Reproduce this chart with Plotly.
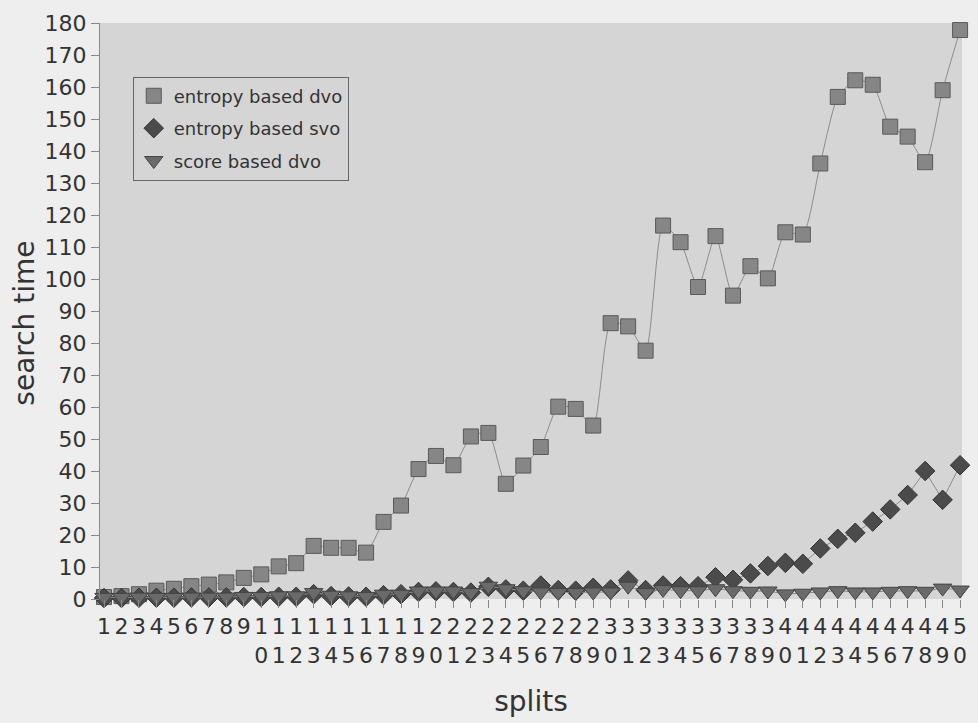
import plotly.graph_objects as go

splits = list(range(1, 51))
tick_labels = [str(n) if n < 10 else f"{str(n)[0]}<br>{str(n)[1]}" for n in splits]

entropy_dvo = [0.6, 0.9, 1.5, 2.6, 3.2, 4.0, 4.5, 5.2, 6.6, 7.7,
               10.2, 11.2, 16.6, 16.0, 16.0, 14.5, 24.1, 29.2, 40.6, 44.7,
               41.8, 50.8, 51.9, 36.0, 41.7, 47.5, 60.1, 59.4, 54.2, 86.2,
               85.2, 77.6, 116.7, 111.5, 97.5, 113.4, 94.8, 104.0, 100.2, 114.6,
               113.9, 136.1, 156.9, 162.1, 160.7, 147.6, 144.5, 136.5, 159.0, 177.8]

entropy_svo = [0.3, 0.3, 0.4, 0.4, 0.4, 0.5, 0.5, 0.5, 0.6, 0.6,
               0.7, 0.7, 1.5, 0.9, 0.8, 0.7, 1.2, 1.5, 2.2, 2.4,
               2.2, 2.0, 3.8, 3.0, 2.6, 4.2, 2.8, 2.6, 3.5, 3.0,
               5.8, 2.8, 4.2, 4.0, 4.0, 6.8, 6.0, 8.0, 10.3, 11.3,
               11.0, 15.8, 18.8, 20.7, 24.2, 28.0, 32.5, 40.0, 31.0, 41.8]

score_dvo = [0.5, 0.5, 0.6, 0.5, 0.5, 0.6, 0.6, 0.6, 0.8, 0.8,
             1.0, 1.0, 2.0, 1.2, 1.0, 0.8, 1.5, 1.5, 2.5, 2.5,
             2.5, 2.0, 4.0, 3.2, 2.6, 2.2, 2.0, 2.0, 2.2, 2.2,
             4.0, 2.0, 3.0, 2.6, 2.6, 3.2, 2.6, 2.4, 2.5, 1.6,
             1.8, 2.2, 2.6, 2.2, 2.2, 2.4, 2.6, 2.4, 3.4, 2.8]

font = "DejaVu Sans"

styles = {
    "entropy based dvo": dict(symbol="square", size=15, color="#868686",
                              line=dict(color="#5a5a5a", width=1)),
    "entropy based svo": dict(symbol="diamond", size=15, color="#4b4b4b",
                              line=dict(color="#333333", width=1)),
    "score based dvo": dict(symbol="triangle-down", size=16, color="#6a6a6a",
                            line=dict(color="#444444", width=1)),
}

fig = go.Figure()
fig.add_trace(go.Scatter(
    x=splits, y=entropy_dvo, name="entropy based dvo", mode="lines+markers",
    line=dict(color="#8c8c8c", width=1, shape="spline", smoothing=0.6),
    marker=styles["entropy based dvo"], cliponaxis=False, showlegend=False))
fig.add_trace(go.Scatter(
    x=splits, y=entropy_svo, name="entropy based svo", mode="lines+markers",
    line=dict(color="#8c8c8c", width=1),
    marker=styles["entropy based svo"], cliponaxis=False, showlegend=False))
fig.add_trace(go.Scatter(
    x=splits, y=score_dvo, name="score based dvo", mode="lines+markers",
    line=dict(color="#8c8c8c", width=1),
    marker=styles["score based dvo"], cliponaxis=False, showlegend=False))

# legend entries (marker only, as in the reference)
for i, (name, mk) in enumerate(styles.items()):
    fig.add_trace(go.Scatter(x=[None], y=[None], name=name, mode="markers",
                             marker=mk, legendgroup=f"g{i}", showlegend=True))

fig.update_layout(
    width=978, height=723,
    margin=dict(l=100, r=11, t=21, b=120),
    paper_bgcolor="#eeeeee", plot_bgcolor="#d5d5d5",
    font=dict(family=font, color="#333333"),
    showlegend=True,
    legend=dict(x=0.038, y=0.907, xanchor="left", yanchor="top",
                bgcolor="#d5d5d5", bordercolor="#666666", borderwidth=1,
                tracegroupgap=6, itemwidth=30,
                font=dict(size=18, family=font, color="#333333")),
    xaxis=dict(range=[0.77, 50.11], tickmode="array", tickvals=splits,
               ticktext=tick_labels, tickfont=dict(size=22), ticks="outside",
               ticklen=8, tickcolor="#888888", showgrid=False, zeroline=False,
               showline=False,
               title=dict(text="splits", font=dict(size=28), standoff=24)),
    yaxis=dict(range=[0, 180], dtick=10, tickfont=dict(size=22),
               ticks="outside", ticklen=8, tickcolor="#888888", showgrid=False,
               zeroline=False, showline=True, linecolor="#888888", linewidth=1),
    annotations=[dict(text="search time", textangle=-90, showarrow=False,
                      xref="paper", yref="paper", x=-0.087, y=0.478,
                      xanchor="center", yanchor="middle",
                      font=dict(size=28, family=font, color="#333333"))],
)

fig.write_html("out.html", config={"displayModeBar": False},
               post_script="document.body.style.margin='0';document.body.style.overflow='hidden';")
